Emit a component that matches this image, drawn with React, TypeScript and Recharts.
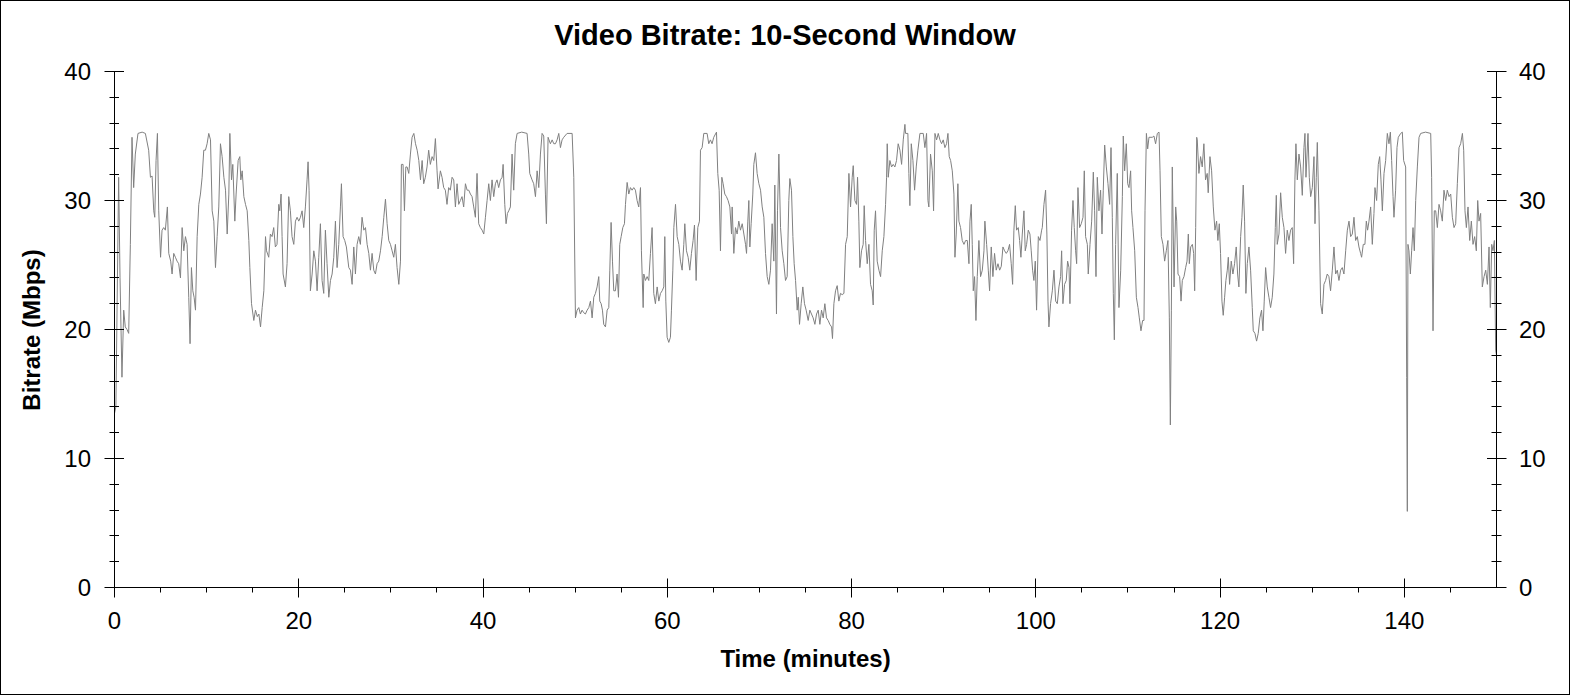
import { LineChart, Line, XAxis, YAxis } from 'recharts';

const FONT = '"Liberation Sans", Arial, sans-serif';

// [minutes, Mbps], in runs of roughly 17 minutes
const run1: [number, number][] = [
  [0, 13.5], [0.15, 14], [0.45, 31.8], [0.6, 24], [0.81, 16.3], [1.0, 21.5], [1.17, 20.2], [1.36, 20], [1.54, 19.7], [1.72, 26.6],
  [1.9, 34.9], [2.08, 31], [2.26, 33.6], [2.55, 35.2], [3.0, 35.3], [3.35, 35.2], [3.71, 33.9], [3.9, 31.8], [4.08, 31.9], [4.26, 29.2],
  [4.37, 28.7], [4.51, 33.1], [4.66, 35.2], [4.8, 29.2], [5.0, 25.6], [5.16, 27.7], [5.34, 27.9], [5.52, 27.7], [5.74, 29.5], [5.89, 25.9],
  [6.1, 25.3], [6.25, 24.3], [6.43, 25.9], [6.61, 25.6], [6.79, 25.3], [6.97, 25.1], [7.16, 24], [7.34, 27.9], [7.52, 26.1], [7.7, 27.2],
  [7.88, 26.6], [8.06, 22.5], [8.2, 18.9], [8.35, 24.8], [8.5, 23], [8.64, 22.5], [8.79, 21.5], [8.97, 27.2], [9.15, 29.7], [9.33, 30.5],
  [9.51, 31.8], [9.69, 33.9], [9.87, 33.9], [10.05, 34.4], [10.23, 35.2], [10.42, 34.7], [10.6, 29.2], [10.78, 28.4], [10.96, 24.8], [11.14, 27.2],
  [11.32, 29.5], [11.5, 34.4], [11.68, 33.4], [11.87, 31.8], [12.05, 30.8], [12.23, 27.4], [12.41, 30.5], [12.52, 35.2], [12.7, 31.6], [12.84, 32.8],
  [13.06, 28.4], [13.2, 30.5], [13.42, 33.1], [13.6, 33.4], [13.71, 31.6], [13.86, 32.3], [14.04, 30.3], [14.22, 29.7], [14.4, 29.2], [14.58, 26.9],
  [14.69, 24.8], [14.87, 22], [15.12, 20.7], [15.3, 21.5], [15.5, 21.0], [15.67, 21.2], [15.85, 20.2], [16.03, 21.7], [16.21, 23], [16.39, 27.2],
  [16.5, 26.1],
];

const run2: [number, number][] = [
  [16.74, 25.6], [16.92, 27.4], [17.1, 27.2], [17.28, 27.9], [17.46, 26.4], [17.64, 26.6], [17.83, 29.7], [17.94, 29.2], [18.08, 30.5], [18.19, 27.2],
  [18.3, 24.3], [18.55, 23.3], [18.73, 25.1], [18.91, 30.3], [19.09, 29.2], [19.27, 27.2], [19.46, 26.6], [19.64, 28.4], [19.82, 28.7], [20.0, 28.4],
  [20.18, 28.7], [20.36, 29.2], [20.54, 27.9], [20.72, 29.5], [20.9, 31.6], [21.01, 33], [21.12, 30.8], [21.26, 23], [21.45, 24.3], [21.63, 26.1],
  [21.81, 25.3], [21.99, 23], [22.17, 25.6], [22.35, 28.2], [22.53, 23.8], [22.71, 22.8], [22.89, 27.7], [23.07, 25.1], [23.26, 22.5], [23.44, 23.8],
  [23.62, 24.3], [23.8, 25.6], [23.98, 28.4], [24.16, 24.8], [24.34, 26.6], [24.52, 29.5], [24.63, 31.3], [24.81, 27.2], [24.99, 26.9], [25.17, 26.4],
  [25.43, 24.8], [25.61, 24.6], [25.79, 23.5], [25.97, 26.4], [26.15, 24.3], [26.33, 26.6], [26.51, 27.2], [26.69, 26.6], [26.87, 28.7], [27.06, 27.7],
  [27.24, 27.9], [27.42, 26.6], [27.6, 25.9], [27.78, 24.6], [27.96, 25.9], [28.14, 24.6], [28.32, 24.3], [28.5, 25.1], [28.68, 25.3], [28.87, 26.1],
  [29.05, 27.2], [29.23, 28.7], [29.41, 30.1], [29.59, 28.2], [29.77, 26.9], [29.95, 26.6], [30.13, 26.1], [30.31, 25.6], [30.49, 26.6], [30.67, 24.8],
  [30.86, 23.5], [31.04, 25.3], [31.14, 32.8], [31.32, 32.8], [31.47, 29.2], [31.62, 32.6], [31.76, 32.6], [31.94, 32.1], [32.12, 33.6], [32.3, 34.9],
  [32.49, 35.2], [32.67, 34.4], [32.85, 33.9], [33.03, 33.1], [33.21, 31.6], [33.39, 33.1],
];

const run3: [number, number][] = [
  [33.56, 31.3], [33.74, 31.8], [33.92, 32.6], [34.1, 33.9], [34.28, 32.8], [34.47, 33.4], [34.65, 33.1], [34.83, 34.8], [35.01, 32.3], [35.12, 30.9],
  [35.37, 32.3], [35.55, 31.8], [35.73, 31], [35.91, 30.8], [36.09, 29.7], [36.27, 31], [36.45, 30.8], [36.64, 31.8], [36.82, 31.6], [37.0, 29.5],
  [37.18, 31.3], [37.36, 29.7], [37.54, 30], [37.72, 30.3], [37.9, 29.5], [38.09, 31.3], [38.27, 30.8], [38.45, 30.8], [38.63, 30.5], [38.81, 30.3],
  [38.99, 29.5], [39.17, 28.7], [39.35, 32.1], [39.53, 28.2], [39.71, 27.9], [39.9, 27.7], [40.08, 27.4], [40.26, 28.7], [40.44, 30], [40.62, 31.3],
  [40.8, 30], [40.98, 31.6], [41.16, 30.3], [41.34, 31.3], [41.52, 31.6], [41.7, 31], [41.89, 31.6], [42.07, 31.8], [42.18, 32.8], [42.36, 29.7],
  [42.5, 28.2], [42.65, 29], [42.79, 29.2], [42.97, 29.5], [43.15, 33.6], [43.33, 30.8], [43.51, 34.4], [43.7, 35.2], [44.2, 35.3], [44.78, 35.2],
  [44.96, 33.6], [45.07, 32.1], [45.32, 31.6], [45.5, 31.3], [45.69, 30.3], [45.87, 32.3], [46.05, 31], [46.23, 33.6], [46.41, 35.2], [46.59, 35],
  [46.77, 30.5], [46.88, 28.2], [47.06, 34.9], [47.31, 34.4], [47.5, 34.7], [47.68, 34.4], [47.86, 34.4], [48.04, 34.7], [48.22, 35.2], [48.4, 34.1],
  [48.58, 34.7], [48.76, 34.9], [49.12, 35.2], [49.67, 35.2], [49.85, 31.8], [50.03, 20.9],
];

const run4: [number, number][] = [
  [50.21, 21.5], [50.39, 21.7], [50.57, 21.2], [50.75, 21.5], [50.93, 21.3], [51.11, 21.2], [51.3, 21.5], [51.48, 21.7], [51.66, 22.2], [51.84, 20.9],
  [52.02, 22.5], [52.2, 22.8], [52.38, 23.3], [52.56, 24.1], [52.67, 22.2], [52.82, 22], [52.96, 21.5], [53.1, 20.4], [53.29, 20.2], [53.47, 21.5],
  [53.65, 21.7], [53.76, 24.6], [53.9, 28.3], [54.05, 25.3], [54.19, 23], [54.37, 23], [54.55, 24.3], [54.7, 22.5], [54.84, 26.6], [54.99, 27.2],
  [55.17, 27.9], [55.35, 28.2], [55.46, 29.7], [55.64, 31.4], [55.82, 30.5], [56.0, 31], [56.18, 30.8], [56.36, 31], [56.54, 30.8], [56.72, 30],
  [56.9, 29.5], [57.09, 31], [57.19, 26.1], [57.38, 21.7], [57.45, 24.3], [57.63, 23.8], [57.81, 24.1], [57.99, 23.8], [58.17, 25.9], [58.35, 27.9],
  [58.53, 22.8], [58.71, 22], [58.9, 23.3], [59.08, 22.2], [59.26, 22.8], [59.44, 23], [59.62, 23.3], [59.73, 27.2], [59.84, 22.2], [59.98, 19.4],
  [60.16, 19], [60.34, 19.4], [60.45, 21.5], [60.6, 24.6], [60.71, 27.9], [60.89, 29.7], [61.07, 27.2], [61.25, 26.6], [61.43, 25.3], [61.61, 24.6],
  [61.79, 26.6], [61.9, 28.2], [62.08, 26.1], [62.26, 25.6], [62.44, 24.6], [62.62, 25.9], [62.8, 26.9], [62.95, 28.1], [63.13, 23.8], [63.31, 27.9],
  [63.49, 28.4], [63.6, 33.9], [63.78, 34.1], [63.96, 35.2], [64.32, 35.2], [64.5, 34.4], [64.68, 34.7], [64.86, 34.4], [65.04, 34.9], [65.34, 35.3],
  [65.48, 32.1], [65.63, 30.8], [65.77, 26.1], [65.92, 31.8], [66.06, 31.3], [66.24, 30.5], [66.42, 30.3], [66.6, 30], [66.79, 29.5], [66.97, 27.4],
];

const run5: [number, number][] = [
  [67.04, 29.5], [67.22, 25.9], [67.4, 27.9], [67.58, 27.4], [67.76, 28.4], [67.94, 27.7], [68.13, 28.2], [68.31, 27.4], [68.49, 26.6], [68.6, 25.9],
  [68.74, 28.4], [68.85, 30], [68.96, 26.4], [69.1, 28.2], [69.28, 30.5], [69.39, 32.8], [69.57, 33.7], [69.75, 32.1], [69.94, 31.3], [70.12, 30.8],
  [70.3, 29.5], [70.48, 28.7], [70.66, 25.9], [70.84, 24.1], [71.02, 23.5], [71.2, 24.6], [71.38, 28.2], [71.56, 25.3], [71.67, 31.2], [71.85, 21.2],
  [71.96, 29.2], [72.11, 33.6], [72.29, 27.9], [72.47, 26.1], [72.65, 25.1], [72.83, 23.8], [73.01, 24.1], [73.19, 30], [73.3, 31.7], [73.48, 30.8],
  [73.63, 27.2], [73.77, 25.1], [73.92, 23.8], [74.1, 21.5], [74.21, 22.5], [74.35, 20.4], [74.53, 22], [74.71, 23.3], [74.89, 22], [75.07, 21.5],
  [75.29, 20.7], [75.47, 21.5], [75.65, 21.2], [75.83, 20.9], [76.02, 20.4], [76.2, 21.2], [76.38, 21.5], [76.56, 20.4], [76.74, 21.5], [76.92, 20.9],
  [77.1, 22], [77.28, 20.9], [77.46, 20.7], [77.64, 20.4], [77.83, 20.2], [77.93, 19.3], [78.08, 22], [78.26, 23], [78.44, 23.4], [78.62, 22.2],
  [78.8, 22.8], [78.98, 22.7], [79.17, 22.8], [79.35, 26.6], [79.53, 27.2], [79.71, 32.1], [79.89, 29.5], [80.07, 31.8], [80.18, 32.7], [80.36, 30],
  [80.54, 29.7], [80.65, 31.8], [80.79, 28.4], [80.9, 24.8], [81.08, 26.1], [81.26, 26.6], [81.37, 29.6], [81.52, 26.9], [81.7, 25.1], [81.88, 26.6],
  [82.06, 23.5], [82.24, 23], [82.35, 21.9], [82.46, 27.7], [82.6, 29.2], [82.78, 25.3], [82.97, 24.6], [83.15, 24.1], [83.33, 26.1], [83.51, 27.2],
  [83.69, 29.7], [83.8, 31.8],
];

const run6: [number, number][] = [
  [83.87, 34.4], [83.98, 31.8], [84.16, 33.1], [84.34, 32.6], [84.52, 32.8], [84.7, 32.6], [84.88, 33.1], [85.06, 34.4], [85.25, 33.9], [85.43, 32.8],
  [85.61, 34.7], [85.79, 35.9], [85.86, 35.2], [86.11, 35.2], [86.22, 32.1], [86.33, 29.6], [86.48, 34.4], [86.66, 33.1], [86.84, 30.8], [87.02, 32.6],
  [87.2, 33.9], [87.42, 35.2], [87.78, 35.2], [87.96, 34.1], [88.14, 35.2], [88.29, 30], [88.39, 29.5], [88.57, 33.6], [88.76, 32.3], [88.9, 29.2],
  [89.05, 35.2], [89.23, 34.7], [89.41, 35.2], [89.59, 34.7], [89.77, 34.4], [89.95, 34.7], [90.13, 34.1], [90.31, 34.4], [90.46, 35.2], [90.6, 33.4],
  [90.75, 33.1], [90.93, 32.3], [91.11, 30.5], [91.22, 25.6], [91.36, 27.4], [91.54, 31.3], [91.65, 28.4], [91.83, 27.9], [92.01, 26.9], [92.2, 26.6],
  [92.38, 26.9], [92.56, 26.9], [92.74, 25.1], [92.85, 28.4], [92.99, 29.7], [93.1, 26.6], [93.21, 23], [93.35, 24.1], [93.5, 20.7], [93.64, 24.1],
  [93.82, 26.9], [94.0, 24.1], [94.19, 24.6], [94.37, 26.1], [94.47, 28.4], [94.66, 26.6], [94.84, 24.6], [94.98, 23], [95.16, 26.4], [95.34, 24.1],
  [95.52, 25.9], [95.7, 24.6], [95.89, 25.1], [96.07, 24.6], [96.25, 24.9], [96.43, 26.4], [96.61, 26.1], [96.79, 25.9], [96.97, 26.1], [97.15, 26.6],
  [97.33, 25.1], [97.48, 23.5], [97.62, 27.7], [97.77, 29.6], [97.91, 27.7], [98.09, 27.9], [98.24, 26.9], [98.38, 25.6], [98.53, 27.4], [98.71, 29.2],
  [98.85, 26.1], [99.0, 26.6], [99.18, 27.7], [99.36, 27.4], [99.5, 26.1], [99.65, 24.6], [99.79, 23.8], [99.94, 25.3], [100.08, 21.5], [100.27, 27.2],
  [100.45, 26.9], [100.63, 27.7],
];

const run7: [number, number][] = [
  [100.7, 27.9], [100.88, 29.7], [101.06, 30.8], [101.2, 27.4], [101.32, 22.2], [101.42, 20.2], [101.6, 22], [101.79, 23], [101.97, 24.6], [102.15, 22.2],
  [102.33, 22], [102.51, 23.3], [102.69, 24.1], [102.8, 26.1], [102.94, 22], [103.12, 23.5], [103.3, 23.8], [103.45, 25.3], [103.6, 24.8], [103.7, 22],
  [103.88, 27.7], [104.03, 30], [104.17, 27.9], [104.32, 26.1], [104.43, 25.1], [104.57, 31], [104.75, 27.9], [104.93, 28.2], [105.12, 28.7], [105.26, 32.3],
  [105.4, 27.2], [105.59, 26.6], [105.69, 24.3], [105.88, 26.6], [106.06, 28.4], [106.24, 32.2], [106.38, 29.2], [106.53, 24.1], [106.67, 31.8], [106.85, 29.2],
  [107.03, 30.8], [107.18, 27.4], [107.32, 30.8], [107.47, 34.3], [107.65, 32.6], [107.83, 31.3], [108.01, 29.7], [108.16, 34.1], [108.3, 28.7], [108.41, 22.8],
  [108.52, 19.2], [108.66, 26.6], [108.84, 32.1], [109.02, 21.7], [109.21, 24.6], [109.39, 30.3], [109.49, 35], [109.64, 32.3], [109.82, 34.4], [109.97, 31.3],
  [110.11, 31], [110.29, 32.3], [110.4, 29.2], [110.54, 27.9], [110.73, 26.1], [110.91, 22.5], [111.09, 21.7], [111.23, 20.9], [111.41, 19.9], [111.59, 20.7],
  [111.74, 20.7], [111.85, 29.2], [112.0, 35.2], [112.14, 34], [112.28, 34.9], [112.64, 34.9], [112.82, 35], [113.0, 34.4], [113.19, 35.2], [113.37, 35.3],
  [113.48, 32.3], [113.62, 27.2], [113.8, 26.6], [113.98, 25.3], [114.16, 26.1], [114.34, 26.9], [114.49, 20.9], [114.6, 12.6], [114.71, 21.5], [114.81, 32.6],
  [115.0, 23.3], [115.18, 29.5], [115.29, 28.4], [115.43, 24.3], [115.61, 24.1], [115.76, 22.2], [115.9, 23.8], [116.08, 24.1], [116.26, 24.8], [116.41, 25.3],
  [116.55, 27.4], [116.66, 25.1], [116.81, 26.4], [116.99, 26.6], [117.13, 25.9], [117.24, 23], [117.35, 27.9], [117.46, 34.9],
];

const run8: [number, number][] = [
  [117.52, 34.7], [117.7, 32.1], [117.88, 33.4], [118.06, 32.6], [118.24, 34.4], [118.42, 31.6], [118.6, 32.1], [118.71, 30.6], [118.9, 33.4], [119.08, 32.3],
  [119.26, 29.5], [119.44, 27.7], [119.62, 28.4], [119.76, 26.9], [119.91, 28.2], [120.05, 25.9], [120.2, 22.2], [120.34, 21.1], [120.49, 22.5], [120.63, 23.8],
  [120.78, 24.6], [120.89, 25.6], [121.03, 23.5], [121.21, 25.3], [121.39, 24.3], [121.57, 25.1], [121.75, 26.4], [121.9, 24.3], [122.04, 23.3], [122.23, 27.2],
  [122.37, 28.7], [122.51, 31.2], [122.66, 28.4], [122.8, 22.8], [122.95, 25.1], [123.13, 26.4], [123.31, 24.6], [123.49, 21.7], [123.6, 19.9], [123.78, 19.7],
  [123.96, 19.1], [124.14, 19.7], [124.32, 20.9], [124.5, 21.5], [124.65, 19.9], [124.79, 22.2], [124.94, 24.8], [125.12, 23.3], [125.3, 22.5], [125.48, 21.7],
  [125.66, 22.5], [125.84, 24.3], [125.99, 27.9], [126.1, 30.4], [126.2, 26.6], [126.39, 27.4], [126.57, 30.6], [126.75, 28.7], [126.93, 27.9], [127.11, 25.9],
  [127.29, 27.7], [127.47, 26.9], [127.65, 27.7], [127.83, 27.9], [127.98, 25.1], [128.12, 31.6], [128.23, 34.4], [128.38, 31.6], [128.56, 33.6], [128.74, 32.6],
  [128.92, 30.4], [129.1, 34.1], [129.21, 35.2], [129.32, 31.8], [129.54, 35.2], [129.68, 31.8], [129.83, 30.3], [130.01, 31], [130.19, 33.4], [130.3, 28.2],
  [130.44, 31.8], [130.55, 34.5], [130.73, 29.2], [130.91, 22], [131.09, 21.2], [131.27, 23.5], [131.45, 23.8], [131.63, 24.3], [131.81, 24.1], [131.99, 23],
  [132.18, 24.6], [132.36, 26.4], [132.54, 24.3], [132.72, 24.6], [132.9, 23.8], [133.08, 24.6], [133.26, 24.8], [133.44, 24.3], [133.63, 26.1], [133.81, 27.7],
  [133.99, 28.4], [134.17, 27.2],
];

const run9: [number, number][] = [
  [134.35, 27.4], [134.53, 28.7], [134.71, 26.9], [134.89, 27.2], [135.07, 26.4], [135.25, 25.9], [135.36, 25.6], [135.54, 26.6], [135.72, 26.6], [135.87, 28.4],
  [136.01, 27.7], [136.16, 28.4], [136.34, 29.5], [136.52, 26.6], [136.7, 29], [136.81, 31], [136.99, 30], [137.17, 32.8], [137.32, 33.4], [137.46, 31.6],
  [137.61, 29.2], [137.79, 32.1], [137.97, 33.1], [138.15, 35.2], [138.33, 34.4], [138.48, 35.3], [138.62, 33.1], [138.77, 30.3], [138.87, 28.7], [139.05, 30.8],
  [139.2, 34.1], [139.34, 34.9], [139.6, 35.2], [139.78, 35.3], [139.92, 33.1], [140.14, 32.6], [140.25, 16.3], [140.32, 5.9], [140.39, 26.6], [140.5, 26.1],
  [140.65, 24.3], [140.79, 26.1], [140.94, 27.9], [141.08, 26.1], [141.23, 30], [141.41, 32.6], [141.59, 34.9], [141.77, 35.2], [142.3, 35.3], [142.86, 35.2],
  [142.96, 31.8], [143.11, 19.9], [143.25, 29.2], [143.4, 29.2], [143.58, 27.9], [143.76, 29.7], [143.94, 29.2], [144.12, 28.4], [144.3, 30.8], [144.48, 30],
  [144.66, 30.8], [144.85, 30.3], [145.03, 30.5], [145.21, 28.7], [145.39, 27.9], [145.57, 28.2], [145.75, 31.3], [145.93, 34.1], [146.11, 34.4], [146.3, 35.2],
  [146.44, 33.9], [146.58, 29.2], [146.73, 27.9], [146.91, 29.5], [147.09, 26.9], [147.27, 28.4], [147.45, 26.6], [147.63, 27.2], [147.81, 26.1], [147.96, 30],
  [148.1, 28.4], [148.28, 29], [148.46, 23.3], [148.65, 24.1], [148.83, 24.6], [149.01, 23.5], [149.19, 26.4], [149.33, 21.7], [149.48, 26.6], [149.62, 26.1],
  [149.77, 26.9], [149.91, 18.4], [150, 18],
];

const X_MAJOR = [0, 20, 40, 60, 80, 100, 120, 140];
const X_TICKS = [0, 5, 10, 15, 20, 25, 30, 35, 40, 45, 50, 55, 60, 65, 70, 75, 80, 85, 90, 95, 100, 105, 110, 115, 120, 125, 130, 135, 140, 145];
const Y_MAJOR = [0, 10, 20, 30, 40];
const Y_TICKS = [0, 2, 4, 6, 8, 10, 12, 14, 16, 18, 20, 22, 24, 26, 28, 30, 32, 34, 36, 38, 40];

const series = [...run1, ...run2, ...run3, ...run4, ...run5, ...run6, ...run7, ...run8, ...run9].map(([t, v]) => ({ t, v }));

const crisp = (n: number) => Math.round(n - 0.5) + 0.5;

const labelStyle = { fontSize: 24, fill: '#000', fontFamily: FONT };

function BottomTick({ x, y, payload }: any) {
  const major = X_MAJOR.includes(payload.value);
  const cx = crisp(x);
  return (
    <g>
      <line x1={cx} x2={cx} y1={major ? y - 9 : y} y2={major ? y + 10 : y + 5} stroke="#000" />
      {major && <text x={x} y={y + 41} textAnchor="middle" {...labelStyle}>{payload.value}</text>}
    </g>
  );
}

function TopTick({ x, y, payload }: any) {
  const major = X_MAJOR.includes(payload.value);
  const cx = crisp(x);
  return <line x1={cx} x2={cx} y1={y} y2={major ? y + 9 : y + 4.5} stroke="#000" />;
}

function LeftTick({ x, y, payload }: any) {
  const major = Y_MAJOR.includes(payload.value);
  const cy = crisp(y);
  return (
    <g>
      <line x1={major ? x - 10 : x - 5} x2={major ? x + 9.5 : x + 4.5} y1={cy} y2={cy} stroke="#000" />
      {major && <text x={x - 23.5} y={y} dy={8.5} textAnchor="end" {...labelStyle}>{payload.value}</text>}
    </g>
  );
}

function RightTick({ x, y, payload }: any) {
  const major = Y_MAJOR.includes(payload.value);
  const cy = crisp(y);
  return (
    <g>
      <line x1={major ? x - 9.5 : x - 5} x2={major ? x + 10 : x + 5} y1={cy} y2={cy} stroke="#000" />
      {major && <text x={x + 22.5} y={y} dy={8.5} textAnchor="start" {...labelStyle}>{payload.value}</text>}
    </g>
  );
}

export default function App() {
  return (
    <div style={{ position: 'absolute', left: 0, top: 0, width: 1570, height: 695, background: '#fff', fontFamily: FONT, color: '#000' }}>
      <div style={{ position: 'absolute', left: 0, top: 0 }}>
        <LineChart width={1570} height={695} data={series} margin={{ top: 71.5, right: 13.5, bottom: 67.5, left: 54.5 }}>
          <XAxis xAxisId="bottom" dataKey="t" type="number" domain={[0, 150]} allowDataOverflow ticks={X_TICKS} interval={0}
            height={40} tickSize={0} tickMargin={0} tickLine={false} axisLine={{ stroke: '#000' }} tick={(p: any) => <BottomTick {...p} />} />
          <XAxis xAxisId="top" orientation="top" dataKey="t" type="number" domain={[0, 150]} allowDataOverflow ticks={X_TICKS} interval={0}
            height={0} tickSize={0} tickMargin={0} tickLine={false} axisLine={{ stroke: '#000' }} tick={(p: any) => <TopTick {...p} />} />
          <YAxis yAxisId="left" type="number" domain={[0, 40]} allowDataOverflow ticks={Y_TICKS} interval={0}
            width={60} tickSize={0} tickMargin={0} tickLine={false} axisLine={{ stroke: '#000' }} tick={(p: any) => <LeftTick {...p} />} />
          <YAxis yAxisId="right" orientation="right" type="number" domain={[0, 40]} allowDataOverflow ticks={Y_TICKS} interval={0}
            width={60} tickSize={0} tickMargin={0} tickLine={false} axisLine={{ stroke: '#000' }} tick={(p: any) => <RightTick {...p} />} />
          <Line xAxisId="bottom" yAxisId="left" type="linear" dataKey="v" stroke="#808080" strokeWidth={1}
            dot={false} activeDot={false} isAnimationActive={false} />
        </LineChart>
      </div>
      <div style={{ position: 'absolute', left: 0, top: 18.5, width: 1570, textAlign: 'center', fontSize: 29, fontWeight: 'bold', lineHeight: '33px' }}>
        Video Bitrate: 10-Second Window
      </div>
      <div style={{ position: 'absolute', left: 114.5, top: 645, width: 1382, textAlign: 'center', fontSize: 24, fontWeight: 'bold', lineHeight: '28px' }}>
        Time (minutes)
      </div>
      <div style={{ position: 'absolute', left: -167.8, top: 315.5, width: 400, height: 28, textAlign: 'center', fontSize: 24, fontWeight: 'bold', lineHeight: '28px', transform: 'rotate(-90deg)', transformOrigin: 'center' }}>
        Bitrate (Mbps)
      </div>
      <div style={{ position: 'absolute', left: 0, top: 0, width: 1570, height: 695, border: '1px solid #000', boxSizing: 'border-box', pointerEvents: 'none' }} />
    </div>
  );
}
